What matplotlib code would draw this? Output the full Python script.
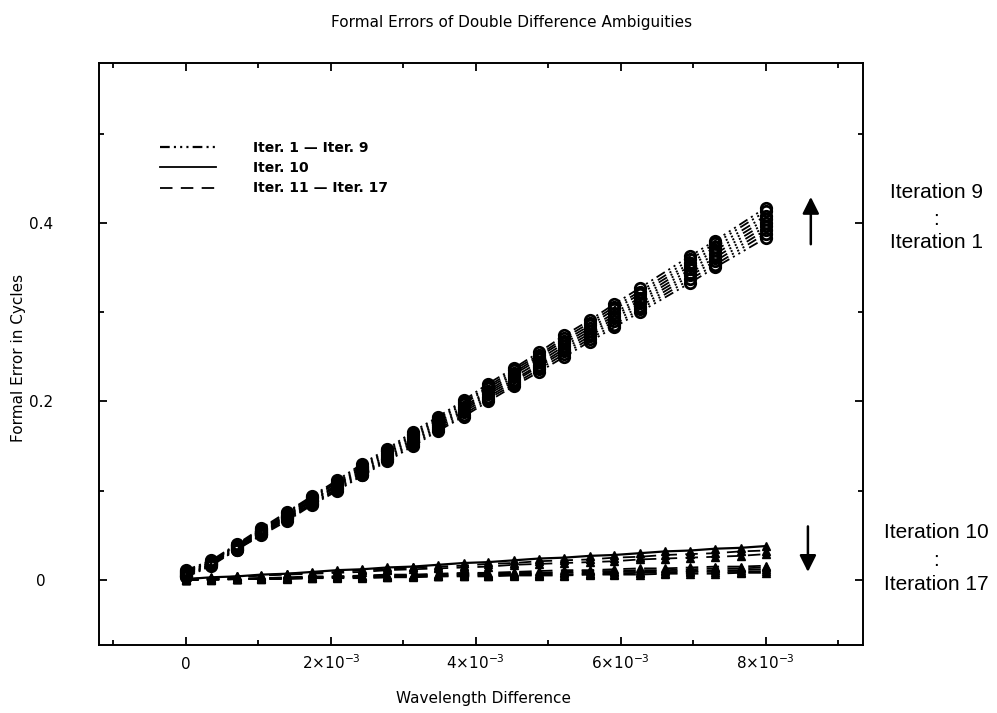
import numpy as np
import matplotlib
matplotlib.use('Agg')
import matplotlib.pyplot as plt
from matplotlib.lines import Line2D

plt.rcParams['lines.scale_dashes'] = False
plt.rcParams['font.family'] = 'DejaVu Sans'

# wavelength differences, in units of 1e-3
wl_all = np.array([0.00, 0.35, 0.70, 1.04, 1.39, 1.74, 2.09, 2.43, 2.78, 3.13, 3.48, 3.83,
                   4.17, 4.52, 4.87, 5.22, 5.57, 5.91, 6.26, 6.61, 6.96, 7.30, 7.65, 8.00]) * 1e-3
# iterations 1-9 have no points at 6.61e-3 and 7.65e-3
wl_upper = np.array([0.00, 0.35, 0.70, 1.04, 1.39, 1.74, 2.09, 2.43, 2.78, 3.13, 3.48, 3.83,
                     4.17, 4.52, 4.87, 5.22, 5.57, 5.91, 6.26, 6.96, 7.30, 8.00]) * 1e-3

# formal errors in cycles, iterations 1 - 9
iter_1 = [0.003, 0.016, 0.034, 0.050, 0.066, 0.084, 0.100, 0.117, 0.133, 0.150, 0.167,
          0.183, 0.200, 0.217, 0.233, 0.250, 0.267, 0.283, 0.300, 0.333, 0.350, 0.383]
iter_2 = [0.004, 0.017, 0.034, 0.051, 0.068, 0.085, 0.102, 0.118, 0.135, 0.152, 0.169,
          0.185, 0.203, 0.219, 0.236, 0.253, 0.270, 0.286, 0.303, 0.337, 0.353, 0.388]
iter_3 = [0.005, 0.018, 0.035, 0.052, 0.069, 0.086, 0.103, 0.120, 0.136, 0.154, 0.171,
          0.188, 0.205, 0.222, 0.239, 0.256, 0.273, 0.290, 0.306, 0.341, 0.357, 0.392]
iter_4 = [0.006, 0.018, 0.036, 0.053, 0.070, 0.088, 0.105, 0.121, 0.138, 0.156, 0.173,
          0.190, 0.208, 0.224, 0.241, 0.259, 0.276, 0.293, 0.310, 0.344, 0.361, 0.396]
iter_5 = [0.007, 0.019, 0.037, 0.054, 0.071, 0.089, 0.106, 0.123, 0.140, 0.158, 0.175,
          0.192, 0.210, 0.227, 0.244, 0.262, 0.279, 0.296, 0.313, 0.348, 0.365, 0.400]
iter_6 = [0.008, 0.020, 0.038, 0.055, 0.072, 0.090, 0.107, 0.125, 0.142, 0.160, 0.177,
          0.194, 0.212, 0.230, 0.247, 0.265, 0.282, 0.299, 0.316, 0.352, 0.369, 0.404]
iter_7 = [0.009, 0.020, 0.039, 0.056, 0.073, 0.092, 0.109, 0.126, 0.144, 0.162, 0.179,
          0.197, 0.215, 0.232, 0.250, 0.268, 0.285, 0.303, 0.320, 0.355, 0.373, 0.408]
iter_8 = [0.010, 0.021, 0.039, 0.057, 0.075, 0.093, 0.110, 0.128, 0.145, 0.164, 0.181,
          0.199, 0.217, 0.235, 0.252, 0.271, 0.288, 0.306, 0.323, 0.359, 0.377, 0.413]
iter_9 = [0.011, 0.022, 0.040, 0.058, 0.076, 0.094, 0.112, 0.130, 0.147, 0.166, 0.183,
          0.201, 0.220, 0.237, 0.255, 0.274, 0.291, 0.309, 0.327, 0.363, 0.380, 0.417]

# iterations 10 - 17
iter_10 = [0.001, 0.003, 0.004, 0.006, 0.007, 0.009, 0.011, 0.012, 0.014, 0.015, 0.017, 0.019,
           0.020, 0.022, 0.024, 0.025, 0.027, 0.028, 0.030, 0.032, 0.033, 0.035, 0.036, 0.038]
iter_11 = [0.001, 0.002, 0.004, 0.005, 0.007, 0.008, 0.009, 0.011, 0.012, 0.014, 0.015, 0.016,
           0.018, 0.019, 0.021, 0.022, 0.023, 0.025, 0.026, 0.028, 0.029, 0.030, 0.032, 0.033]
iter_12 = [0.001, 0.002, 0.003, 0.005, 0.006, 0.007, 0.008, 0.009, 0.011, 0.012, 0.013, 0.014,
           0.015, 0.017, 0.018, 0.019, 0.020, 0.021, 0.023, 0.024, 0.025, 0.026, 0.027, 0.029]
iter_13 = [0.000, 0.001, 0.001, 0.002, 0.003, 0.004, 0.004, 0.005, 0.006, 0.006, 0.007, 0.008,
           0.008, 0.009, 0.010, 0.011, 0.011, 0.012, 0.013, 0.013, 0.014, 0.015, 0.015, 0.016]
iter_14 = [0.000, 0.001, 0.001, 0.002, 0.002, 0.003, 0.004, 0.004, 0.005, 0.005, 0.006, 0.007,
           0.007, 0.008, 0.008, 0.009, 0.010, 0.010, 0.011, 0.011, 0.012, 0.013, 0.013, 0.014]
iter_15 = [0.000, 0.001, 0.001, 0.002, 0.002, 0.003, 0.003, 0.004, 0.004, 0.005, 0.005, 0.006,
           0.006, 0.007, 0.007, 0.008, 0.008, 0.009, 0.009, 0.010, 0.010, 0.011, 0.011, 0.012]
iter_16 = [0.000, 0.000, 0.001, 0.001, 0.002, 0.002, 0.003, 0.003, 0.003, 0.004, 0.004, 0.005,
           0.005, 0.006, 0.006, 0.006, 0.007, 0.007, 0.008, 0.008, 0.009, 0.009, 0.009, 0.010]
iter_17 = [0.000, 0.000, 0.001, 0.001, 0.001, 0.002, 0.002, 0.002, 0.003, 0.003, 0.004, 0.004,
           0.004, 0.005, 0.005, 0.005, 0.006, 0.006, 0.006, 0.007, 0.007, 0.007, 0.008, 0.008]

upper_iters = [iter_1, iter_2, iter_3, iter_4, iter_5, iter_6, iter_7, iter_8, iter_9]
dashed_iters = [iter_11, iter_12, iter_13, iter_14, iter_15, iter_16, iter_17]

x_major = [0, 2e-3, 4e-3, 6e-3, 8e-3]
x_labels = ['0', r'$2{\times}10^{-3}$', r'$4{\times}10^{-3}$', r'$6{\times}10^{-3}$', r'$8{\times}10^{-3}$']
x_minor = [-1e-3, 1e-3, 3e-3, 5e-3, 7e-3, 9e-3]
y_major = [0, 0.2, 0.4]
y_labels = ['0', '0.2', '0.4']
y_minor = [0.1, 0.3, 0.5]

dash_dot3 = (7, 3, 1.5, 3, 1.5, 3, 1.5, 3)
long_dash = (9, 6)

fig = plt.figure(figsize=(9.97, 7.13), dpi=100)
ax = fig.add_axes([0.0993, 0.0954, 0.7663, 0.8163])

for vals in upper_iters:
    ax.plot(wl_upper, vals, color='black', lw=1.3, dashes=dash_dot3,
            marker='o', ms=7.5, mfc='none', mec='black', mew=2.0)
ax.plot(wl_all, iter_10, color='black', lw=1.6, ls='-', marker='^', ms=5.5)
for vals in dashed_iters:
    ax.plot(wl_all, vals, color='black', lw=1.3, dashes=long_dash, marker='^', ms=5.5)

ax.set_xlim(-1.2e-3, 9.34e-3)
ax.set_ylim(-0.0728, 0.579)
ax.set_xticks(x_major)
ax.set_xticklabels(x_labels)
ax.set_xticks(x_minor, minor=True)
ax.set_yticks(y_major)
ax.set_yticklabels(y_labels)
ax.set_yticks(y_minor, minor=True)

ax.tick_params(which='both', direction='in', top=True, right=True, width=1.3, labelsize=11)
ax.tick_params(which='major', length=6)
ax.tick_params(which='minor', length=3.6)
ax.tick_params(axis='y', pad=42)
ax.tick_params(axis='x', pad=17)
for lab in ax.get_yticklabels():
    lab.set_horizontalalignment('center')
for lab in ax.get_xticklabels():
    lab.set_verticalalignment('baseline')
for sp in ax.spines.values():
    sp.set_linewidth(1.4)

# legend without markers, like the reference
handles = [Line2D([], [], color='black', lw=1.6, dashes=dash_dot3),
           Line2D([], [], color='black', lw=1.3, ls='-'),
           Line2D([], [], color='black', lw=1.3, dashes=long_dash)]
labels = ['Iter. 1 \u2014 Iter. 9', 'Iter. 10', 'Iter. 11 \u2014 Iter. 17']
ax.legend(handles, labels, loc='upper left', bbox_to_anchor=(160 / 997, 1 - 141 / 713),
          bbox_transform=fig.transFigure, frameon=False, borderpad=0, borderaxespad=0,
          handlelength=4.0, handletextpad=2.7, labelspacing=0.45,
          prop={'size': 10, 'weight': 'bold'})

# arrows and iteration notes at the right
arrow = dict(arrowstyle='-|>,head_length=0.4,head_width=0.2', color='black', lw=1.8,
             mutation_scale=25, shrinkA=0, shrinkB=0)
ax.annotate('', xy=(8.62e-3, 0.429), xytext=(8.62e-3, 0.376), arrowprops=arrow, annotation_clip=False)
ax.annotate('', xy=(8.58e-3, 0.009), xytext=(8.58e-3, 0.060), arrowprops=arrow, annotation_clip=False)

note = dict(ha='center', va='center', family='Liberation Sans', size=15)
fig.text(936 / 997, 1 - 193 / 713, 'Iteration 9', **note)
fig.text(936 / 997, 1 - 219 / 713, ':', **note)
fig.text(936 / 997, 1 - 242 / 713, 'Iteration 1', **note)
fig.text(936 / 997, 1 - 533 / 713, 'Iteration 10', **note)
fig.text(936 / 997, 1 - 560 / 713, ':', **note)
fig.text(936 / 997, 1 - 585 / 713, 'Iteration 17', **note)

fig.text(512 / 997, 1 - 22 / 713, 'Formal Errors of Double Difference Ambiguities', ha='center', va='center', size=11)
fig.text(483 / 997, 1 - 699 / 713, 'Wavelength Difference', ha='center', va='center', size=11)
fig.text(18 / 997, 1 - 358 / 713, 'Formal Error in Cycles', ha='center', va='center', rotation=90, size=11)

fig.savefig('out.png', dpi=100)
